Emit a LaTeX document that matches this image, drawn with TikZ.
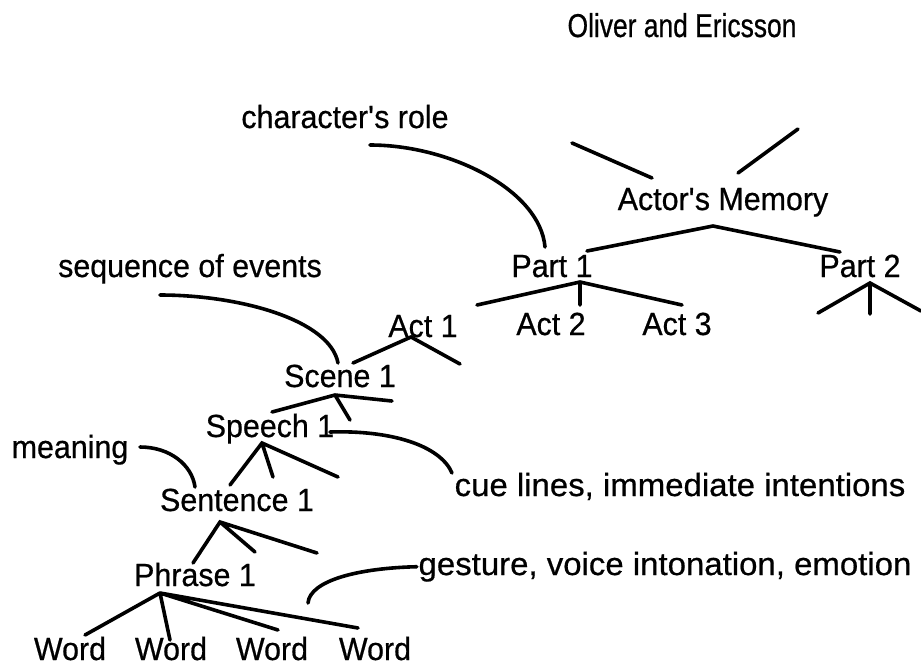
\documentclass[tikz,border=0pt]{standalone}
\usepackage{fontspec}
\setmainfont[FakeStretch=0.95,FakeBold=0.6]{Liberation Sans}
\newfontfamily\titlefont[FakeStretch=0.8,FakeBold=0.6]{Liberation Sans}
\newfontfamily\widefont[FakeStretch=1.03,FakeBold=0.6]{Liberation Sans}
\usepackage{tikz}
\usetikzlibrary{positioning}

\begin{document}
\begin{tikzpicture}[x=1pt,y=-1pt,line width=3.6pt,line cap=round,
  every node/.style={font=\fontsize{32}{38}\selectfont,inner sep=0pt,anchor=base}]
  \useasboundingbox (0,0) rectangle (921,665);
  % labels
  \node (title) at (682,37)  {\titlefont\fontsize{33}{38}\selectfont Oliver and Ericsson};
  \node (role)  at (345,128) {character\textquotesingle s role};
  \node (mem)   at (723,210) {Actor\textquotesingle s Memory};
  \node (seq)   at (190,277) {sequence of events};
  \node (p1)    at (552,277) {Part 1};
  \node (p2)    at (860,277) {Part 2};
  \node (a1)    at (423,337) {Act 1};
  \node (a2)    at (551,335) {Act 2};
  \node (a3)    at (677,335) {Act 3};
  \node (sc1)   at (340,387) {Scene 1};
  \node (sp1)   at (270,437) {Speech 1};
  \node (mean)  at (70,458)  {meaning};
  \node (cue)   at (680,496) {\widefont cue lines, immediate intentions};
  \node (se1)   at (237,511) {Sentence 1};
  \node (gest)  at (665,575) {\widefont gesture, voice intonation, emotion};
  \node (ph1)   at (195,586) {Phrase 1};
  \node (w1)    at (70,660)  {Word};
  \node (w2)    at (171,660) {Word};
  \node (w3)    at (272,660) {Word};
  \node (w4)    at (375,660) {Word};
  % branch points
  \coordinate (memup1a) at (572,143); \coordinate (memup1b) at (652,178);
  \coordinate (memup2a) at (738,173); \coordinate (memup2b) at (798,129);
  \coordinate (memtip) at (713,226);
  \coordinate (p1tip) at (580,282);
  \coordinate (p2tip) at (870,283);
  \coordinate (p2l) at (818,313); \coordinate (p2m) at (870,314); \coordinate (p2r) at (921,311);
  \coordinate (a1tip) at (411,337);
  \coordinate (a1r) at (460,364);
  \coordinate (sc1tip) at (335,395);
  \coordinate (sc1r) at (392,401); \coordinate (sc1m) at (350,420);
  \coordinate (sp1tip) at (262,443);
  \coordinate (sp1m) at (273,477); \coordinate (sp1r) at (338,477);
  \coordinate (se1tip) at (220,522);
  \coordinate (se1m) at (255,552); \coordinate (se1r) at (317,553);
  \coordinate (ph1tip) at (160,593);
  % tree
  \draw (memup1a) -- (memup1b) (memup2a) -- (memup2b);
  \draw (587,251) coordinate (p1top) -- (memtip) -- (840,252) coordinate (p2top);
  \draw (477,305) coordinate (a1top) -- (p1tip) -- (682,305) coordinate (a3top)
        (p1tip) -- (580,305) coordinate (a2top);
  \draw (p2l) -- (p2tip) -- (p2r) (p2tip) -- (p2m);
  \draw (353,363) coordinate (sc1top) -- (a1tip) -- (a1r);
  \draw (272,412) coordinate (sp1top) -- (sc1tip) -- (sc1r) (sc1tip) -- (sc1m);
  \draw (230,485) coordinate (se1top) -- (sp1tip) -- (sp1r) (sp1tip) -- (sp1m);
  \draw (193,563) coordinate (ph1top) -- (se1tip) -- (se1r) (se1tip) -- (se1m);
  \draw (ph1tip) -- (85,635) coordinate (w1top)
        (ph1tip) -- (170,640) coordinate (w2top)
        (ph1tip) -- (278,630) coordinate (w3top)
        (ph1tip) -- (358,628) coordinate (w4top);
  % annotation curves
  \coordinate (rolefoot) at (370,145);
  \coordinate (seqfoot) at (160,295);
  \coordinate (meanfoot) at (140,447);
  \coordinate (sp1end) at (330,432);
  \coordinate (cuehead) at (452,473);
  \coordinate (gestfoot) at (308,603);
  \draw (rolefoot) .. controls (450,145) and (540,190) .. (545,247);
  \draw (seqfoot) .. controls (240,295) and (330,320) .. (338,363);
  \draw (meanfoot) .. controls (170,447) and (192,465) .. (195,487);
  \draw (sp1end) .. controls (390,430) and (440,445) .. (cuehead);
  \draw (gestfoot) .. controls (310,580) and (360,568) .. (gest.west);
\end{tikzpicture}
\end{document}
